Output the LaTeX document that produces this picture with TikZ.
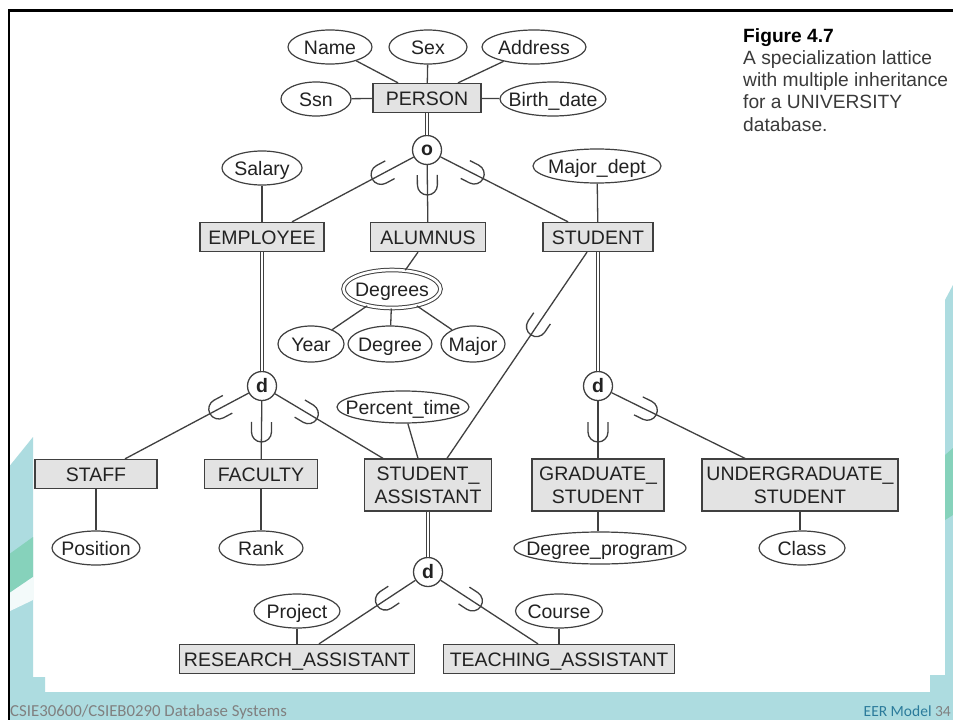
\documentclass[tikz,border=0pt]{standalone}
\usepackage{fontspec}
\setmainfont{Liberation Sans}
\newfontfamily\footfont{Carlito}
\usetikzlibrary{shapes.geometric,calc}
\definecolor{teal1}{HTML}{ADDCE0}
\definecolor{green1}{HTML}{86D2BB}
\definecolor{entfill}{HTML}{E3E3E3}
\definecolor{lncol}{HTML}{404040}
\definecolor{txtcol}{HTML}{222222}
\definecolor{capgray}{HTML}{3A3A3A}
\definecolor{footgray}{HTML}{808080}
\definecolor{footblue}{HTML}{2B7B9B}
\newcommand\dfont{\fontsize{19.5}{23}\selectfont}
\newcommand\tx[1]{\makebox[0pt]{#1}}
\newcommand\usub[3]{%
  \coordinate (uc) at ($(#1)!#3!(#2)$);
  \path let \p1=($(#2)-(#1)$) in \pgfextra{\pgfmathsetmacro\uang{atan2(\y1,\x1)}\xdef\uangG{\uang}};
  \begin{scope}[shift={(uc)}, rotate=\uangG, x=1pt, y=1pt]
    \draw[lin] (-10,10) -- (0,10) arc[start angle=90, end angle=-90, radius=10pt] -- (-10,-10);
  \end{scope}}
\tikzset{
  lin/.style={draw=lncol, line width=1.3pt},
  dbl/.style={draw=lncol, line width=1pt, double=white, double distance=2.6pt},
  ent/.style={draw=lncol, line width=1.3pt, fill=entfill, rectangle, inner sep=0pt, minimum height=29pt, text=txtcol, font=\dfont, text height=14pt, text depth=0pt},
  enttwo/.style={draw=lncol, line width=1.3pt, fill=entfill, rectangle, inner sep=0pt, minimum height=52pt, text=txtcol, font=\dfont, align=center},
  attr/.style={draw=lncol, line width=1.2pt, ellipse, inner sep=0pt, minimum height=34pt, text=txtcol, font=\dfont, text height=14pt, text depth=0pt},
  multi/.style={attr, double=white, double distance=2.6pt, line width=1pt},
  circ/.style={draw=lncol, line width=1.3pt, circle, inner sep=0pt, minimum size=29pt, font=\dfont\bfseries, text=txtcol, fill=white},
  capline/.style={anchor=base west, inner sep=0pt, text=capgray, font=\fontsize{19.2}{22}\selectfont},
  foot/.style={inner sep=0pt, font=\footfont\fontsize{15.5}{18}\selectfont, text=footgray}
}
\begin{document}
\begin{tikzpicture}[x=1pt,y=-1pt]
\useasboundingbox (0,0) rectangle (953,720);
% background
\fill[white] (0,0) rectangle (953,720);
\fill[teal1] (8,468) -- (33,437) -- (33,677) -- (45,677) -- (45,692) -- (930,692) -- (930,675) -- (945,675) -- (945,300) -- (953,285) -- (953,720) -- (8,720) -- cycle;
\fill[green1] (8,555) -- (33,537) -- (33,577) -- (8,594) -- cycle;
\fill[white!85!teal1] (8,594) -- (33,577) -- (33,600) -- (8,612) -- cycle;
\fill[green1] (945,455) -- (953,448) -- (953,515) -- (945,520) -- cycle;
\draw[line width=2.2pt, black] (8.7,720) -- (8.7,10.5) -- (953,10.5);

% caption
\node[capline, text=black, font=\bfseries\fontsize{19.2}{22}\selectfont] (cap1) at (743,42) {Figure 4.7};
\node[capline] (cap2) at (743,64) {A specialization lattice};
\node[capline] (cap3) at (743,86) {with multiple inheritance};
\node[capline] (cap4) at (743,108) {for a UNIVERSITY};
\node[capline] (cap5) at (743,131) {database.};

% entities
\node[ent, minimum width=108pt] (person) at (427,98) {PERSON};
\node[ent, minimum width=124pt] (employee) at (262,237) {EMPLOYEE};
\node[ent, minimum width=115pt] (alumnus) at (428,237) {ALUMNUS};
\node[ent, minimum width=110pt] (student) at (598,237) {STUDENT};
\node[ent, minimum width=122pt] (staff) at (96,474) {STAFF};
\node[ent, minimum width=113pt] (faculty) at (261,474) {FACULTY};
\node[enttwo, minimum width=127pt] (sa) at (428,485) {STUDENT\_\\ASSISTANT};
\node[enttwo, minimum width=132pt] (grad) at (598,485) {GRADUATE\_\\STUDENT};
\node[enttwo, minimum width=196pt] (undergrad) at (800,485) {UNDERGRADUATE\_\\STUDENT};
\node[ent, minimum width=235pt] (ra) at (297,659) {RESEARCH\_ASSISTANT};
\node[ent, minimum width=231pt] (ta) at (559,659) {TEACHING\_ASSISTANT};

% attributes
\node[attr, minimum width=84pt] (name) at (330,47) {\tx{Name}};
\node[attr, minimum width=78pt] (sex) at (428,47) {\tx{Sex}};
\node[attr, minimum width=104pt] (address) at (534,47) {\tx{Address}};
\node[attr, minimum width=70pt] (ssn) at (316,99) {\tx{Ssn}};
\node[attr, minimum width=106pt] (birth) at (553,99) {\tx{Birth\_date}};
\node[attr, minimum width=80pt] (salary) at (262,168) {\tx{Salary}};
\node[attr, minimum width=128pt] (majordept) at (597,166) {\tx{Major\_dept}};
\node[multi, minimum width=97pt, minimum height=38pt] (degrees) at (392,289) {\tx{Degrees}};
\node[attr, minimum width=66pt, minimum height=36pt] (year) at (311,344) {\tx{Year}};
\node[attr, minimum width=84pt, minimum height=36pt] (degree) at (390,344) {\tx{Degree}};
\node[attr, minimum width=64pt, minimum height=36pt] (major) at (473,344) {\tx{Major}};
\node[attr, minimum width=132pt, minimum height=32pt] (percent) at (403,407) {\tx{Percent\_time}};
\node[attr, minimum width=88pt] (position) at (96,548) {\tx{Position}};
\node[attr, minimum width=84pt] (rank) at (261,548) {\tx{Rank}};
\node[attr, minimum width=172pt, minimum height=32pt] (degprog) at (600,548) {\tx{Degree\_program}};
\node[attr, minimum width=86pt] (class) at (802,548) {\tx{Class}};
\node[attr, minimum width=86pt] (project) at (297,611) {\tx{Project}};
\node[attr, minimum width=87pt] (course) at (559,611) {\tx{Course}};

% specialization circles
\node[circ] (o) at (427,150) {o};
\node[circ] (d1) at (262,386) {d};
\node[circ] (d2) at (598,386) {d};
\node[circ] (d3) at (428,572) {d};

% anchor points
\coordinate (personNW) at ([xshift=-29pt]person.north);
\coordinate (personNE) at ([xshift=31pt]person.north);
\coordinate (empT) at ([xshift=30pt]employee.north);
\coordinate (stuT) at ([xshift=-30pt]student.north);
\coordinate (aluB) at ([xshift=-10pt]alumnus.south);
\coordinate (stuB) at ([xshift=-11pt]student.south);
\coordinate (saT1) at ([xshift=19pt]sa.north);
\coordinate (saT2) at ([xshift=-45pt]sa.north);
\coordinate (saT3) at ([xshift=-10pt]sa.north);
\coordinate (staffT) at ([xshift=29pt]staff.north);
\coordinate (ugT) at ([xshift=-55pt]undergrad.north);
\coordinate (raT) at ([xshift=22pt]ra.north);
\coordinate (taT) at ([xshift=-21pt]ta.north);

% attribute connectors
\draw[lin] (name) -- (personNW);
\draw[lin] (sex) -- (person);
\draw[lin] (address) -- (personNE);
\draw[lin] (ssn) -- (person);
\draw[lin] (person) -- (birth);
\draw[lin] (salary) -- (employee);
\draw[lin] (majordept) -- (student);
\draw[lin] (aluB) -- (degrees);
\draw[lin] (degrees) -- (year);
\draw[lin] (degrees) -- (degree);
\draw[lin] (degrees) -- (major);
\draw[lin] (percent) -- (saT3);
\draw[lin] (staff) -- (position);
\draw[lin] (faculty) -- (rank);
\draw[lin] (grad) -- (grad |- degprog.north);
\draw[lin] (undergrad) -- (undergrad |- class.north);
\draw[lin] (project) -- (project |- ra.north);
\draw[lin] (course) -- (course |- ta.north);

% specialization connectors
\draw[dbl] (person) -- (o);
\draw[dbl] (employee) -- (d1);
\draw[dbl] (student) -- (d2);
\draw[dbl] (sa) -- (d3);
\draw[lin] (o) -- (empT);
\draw[lin] (o) -- (alumnus);
\draw[lin] (o) -- (stuT);
\draw[lin] (d1) -- (staffT);
\draw[lin] (d1) -- (faculty);
\draw[lin] (d1) -- (saT2);
\draw[lin] (d2) -- (grad);
\draw[lin] (d2) -- (ugT);
\draw[lin] (d3) -- (raT);
\draw[lin] (d3) -- (taT);
\draw[lin] (stuB) -- (saT1);

% subset symbols
\usub{o}{empT}{52pt}
\usub{o}{alumnus}{35pt}
\usub{o}{stuT}{53pt}
\usub{d1}{staffT}{49pt}
\usub{d1}{faculty}{46pt}
\usub{d1}{saT2}{54pt}
\usub{d2}{grad}{46pt}
\usub{d2}{ugT}{55pt}
\usub{d3}{raT}{51pt}
\usub{d3}{taT}{53pt}
\usub{stuB}{saT1}{90pt}

% footer
\node[foot, anchor=base west, font=\footfont\fontsize{16.8}{18}\selectfont] (foot1) at (10,716) {CSIE30600/CSIEB0290 Database Systems};
\node[foot, anchor=base east] (foot2) at (951,716) {\textcolor{footblue}{EER Model} 34};
\end{tikzpicture}
\end{document}
